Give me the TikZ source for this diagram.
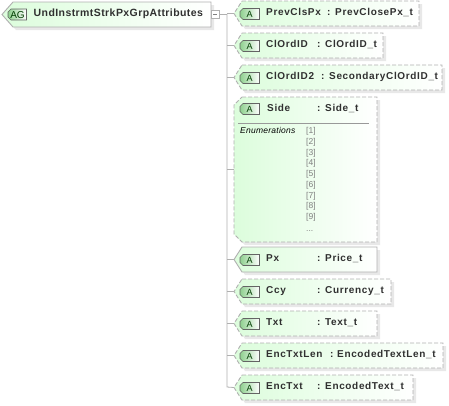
\documentclass[tikz,border=0pt]{standalone}
\usepackage{fontspec}
\setmainfont{Liberation Sans}
\newfontface\lblfont[LetterSpace=6.5]{Liberation Sans Bold}
\newfontface\rootfont[LetterSpace=4]{Liberation Sans Bold}
\newfontface\enumfont[LetterSpace=3]{Liberation Sans Italic}
\definecolor{lgreen}{HTML}{DCFDDC}
\definecolor{bgreen}{HTML}{8FD08F}
\definecolor{edgeg}{HTML}{B0B0B0}
\definecolor{shad}{HTML}{E8E8E8}
\definecolor{inkk}{HTML}{303030}
\tikzset{
  edge/.style={draw=edgeg,line width=0.9pt},
  dashedge/.style={edge,dash pattern=on 4pt off 2pt},
  solidedge/.style={edge},
  conn/.style={draw=edgeg,line width=0.8pt},
  label/.style={inner sep=0pt,anchor=base west,text=inkk,font=\lblfont\fontsize{10}{11}\selectfont},
  badgetext/.style={inner sep=0pt,anchor=center,text=black!60!green!60!black,font=\fontsize{9}{10}\selectfont},
  enumtext/.style={inner sep=0pt,anchor=base west,text=gray,font=\fontsize{8.5}{9}\selectfont},
  enumhead/.style={inner sep=0pt,anchor=base west,text=black,font=\enumfont\fontsize{8.5}{9}\selectfont},
}
\newcommand{\badge}[4]{%
  \path[left color=bgreen,right color=white,draw=inkk!75,line width=0.6pt]
    (#1+3,#3-#4) -- (#2,#3-#4) -- (#2,#3+#4) -- (#1+3,#3+#4) -- (#1,#3+#4-3) -- (#1,#3-#4+3) -- cycle;}
\newcommand{\attr}[8]{%
  \pgfmathsetmacro{\bot}{#3+25}\pgfmathsetmacro{\mid}{#3+12.5}\pgfmathsetmacro{\base}{#3+14.8}
  \fill[shad] (245,#3+3) -- (#2+3,#3+3) -- (#2+3,\bot+3) -- (245,\bot+3) -- (237,\mid+3) -- cycle;
  \path[left color=lgreen,right color=white] (242,#3) -- (#2,#3) -- (#2,\bot) -- (242,\bot) -- (234,\mid) -- cycle;
  \draw[#8] (242,#3) -- (#2,#3) -- (#2,\bot) -- (242,\bot) -- (234,\mid) -- cycle;
  \coordinate (#1) at (234,\mid);
  \badge{240}{259.5}{\mid+0.5}{5.5}
  \node[badgetext] (#1b) at (249.5,\mid+0.8) {A};
  \node[label] (#1l) at (266,\base) {#4};
  \node[label] (#1c) at (#5,\base) {:};
  \node[label] (#1t) at (#7,\base) {#6};
}
\begin{document}
\begin{tikzpicture}[x=1pt,y=-1pt]
\useasboundingbox (0,0) rectangle (449,405);
\fill[white] (0,0) rectangle (449,405);
\coordinate (trunk) at (227,14);
\coordinate (trunkend) at (227,387);
\coordinate (rootout) at (219,14);
\fill[shad] (16,5) -- (214,5) -- (214,30) -- (16,30) -- (5,17.5) -- cycle;
\path[left color=lgreen,right color=white] (13,2) -- (211,2) -- (211,27) -- (13,27) -- (2,14.5) -- cycle;
\draw[solidedge] (13,2) -- (211,2) -- (211,27) -- (13,27) -- (2,14.5) -- cycle;
\badge{8}{26.5}{14.5}{5.5}
\node[inner sep=0pt,text=black!60!green!60!black,font=\fontsize{10}{10}\selectfont] (rootb) at (17.5,14.8) {AG};
\node[label,font=\rootfont\fontsize{10.5}{12}\selectfont] (rootl) at (33.5,16) {UndInstrmtStrkPxGrpAttributes};
\draw[conn,fill=white] (211,10.5) rectangle (219,18.5);
\draw[draw=gray,line width=0.6pt] (213,14.5) -- (217,14.5);
\attr{a}{419}{1}{PrevClsPx}{327}{PrevClosePx\_t}{335}{dashedge}
\attr{b}{383}{33}{ClOrdID}{317}{ClOrdID\_t}{325}{dashedge}
\attr{c}{442}{65}{ClOrdID2}{321}{SecondaryClOrdID\_t}{329}{dashedge}
\fill[shad] (245,100) -- (380,100) -- (380,245) -- (245,245) -- (237,237) -- (237,108) -- cycle;
\path[left color=lgreen,right color=white] (242,97) -- (377,97) -- (377,242) -- (242,242) -- (234,234) -- (234,105) -- cycle;
\draw[dashedge] (242,97) -- (377,97) -- (377,242) -- (242,242) -- (234,234) -- (234,105) -- cycle;
\coordinate (d) at (234,169);
\badge{240}{259.5}{109}{5.5}
\node[badgetext] (db) at (249.5,109.3) {A};
\node[label] (dl) at (267,111.7) {Side};
\node[label] (dc) at (317,111.7) {:};
\node[label] (dt) at (325,111.7) {Side\_t};
\draw[draw=gray!80,line width=0.7pt] (238,123.5) -- (369,123.5);
\node[enumhead] (eh) at (240,133.5) {Enumerations};
\foreach \i [count=\n from 0] in {1,...,9}
  \node[enumtext] (e\i) at (306,133.5+\n*10.75) {[\i]};
\node[enumtext] (e10) at (306,231) {...};
\attr{e}{377}{247}{Px}{317}{Price\_t}{325}{solidedge}
\attr{f}{391}{279}{Ccy}{317}{Currency\_t}{325}{dashedge}
\attr{g}{377}{311}{Txt}{317}{Text\_t}{325}{dashedge}
\attr{h}{443}{343}{EncTxtLen}{330}{EncodedTextLen\_t}{337}{dashedge}
\attr{i}{413}{375}{EncTxt}{317}{EncodedText\_t}{325}{dashedge}
\draw[conn] (rootout) -- (trunk);
\draw[conn] (trunk) -- (trunkend) -- (i);
\foreach \t in {a,b,c,d,e,f,g,h}
  \draw[conn] (\t) -- (\t -| trunk);
\end{tikzpicture}
\end{document}
